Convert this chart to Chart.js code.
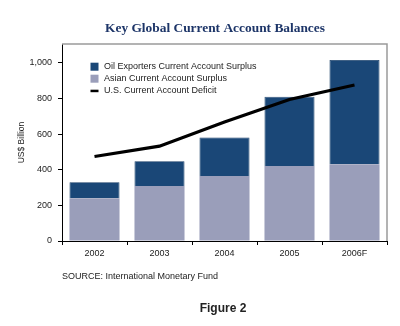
<!DOCTYPE html>
<html>
<head>
<meta charset="utf-8">
<script src="https://cdn.jsdelivr.net/npm/chart.js@4/dist/chart.umd.min.js"></script>
<style>
  html, body { margin: 0; padding: 0; background: #fff; }
  #wrap { position: relative; width: 400px; height: 326px; }
</style>
</head>
<body>
<div id="wrap"><canvas id="chartBalances" width="400" height="326"></canvas></div>
<script>
// years on the x axis, values in US$ billion
var years = ['2002', '2003', '2004', '2005', '2006F'];
var asianSurplus = [240, 309, 364, 421, 431];
var oilSurplus = [90, 139, 217, 388, 584];
var usDeficit = [474, 532, 668, 794, 875];
var yTicks = [0, 200, 400, 600, 800, 1000];

var oilColor = '#1a4777';
var asianColor = '#9a9eba';

// frame, legend and the texts around the plot
var decorations = {
    id: 'decorations',
    afterDraw: function(chart) {
        var ctx = chart.ctx;
        var a = chart.chartArea;
        ctx.save();

        // grey box on top and right of the plot
        ctx.strokeStyle = '#9a9a9a';
        ctx.lineWidth = 1.5;
        ctx.beginPath();
        ctx.moveTo(a.left, a.top);
        ctx.lineTo(a.right, a.top);
        ctx.lineTo(a.right, a.bottom);
        ctx.stroke();

        // legend
        var ds = chart.data.datasets;
        var rows = [ds[1], ds[0], ds[2]];
        ctx.font = '9px "Liberation Sans", Arial, sans-serif';
        ctx.textBaseline = 'middle';
        ctx.textAlign = 'left';
        for (var i = 0; i < rows.length; i++) {
            var y = 66.7 + i * 12;
            if (rows[i].type === 'line') {
                ctx.fillStyle = '#000';
                ctx.fillRect(90.5, y - 1, 8, 2.5);
            } else {
                ctx.fillStyle = rows[i].backgroundColor;
                ctx.fillRect(90.5, y - 4, 8, 8);
            }
            ctx.fillStyle = '#222';
            ctx.fillText(rows[i].label, 104, y);
        }

        // title
        ctx.fillStyle = '#1d3568';
        ctx.textAlign = 'center';
        ctx.font = 'bold 13.4px "Liberation Serif", "Times New Roman", serif';
        ctx.fillText('Key Global Current Account Balances', 215, 28.5);

        // source line
        ctx.fillStyle = '#222';
        ctx.textAlign = 'left';
        ctx.font = '9px "Liberation Sans", Arial, sans-serif';
        ctx.fillText('SOURCE: International Monetary Fund', 62, 277);

        // figure caption
        ctx.textAlign = 'center';
        ctx.font = 'bold 12px "Liberation Sans", Arial, sans-serif';
        ctx.fillText('Figure 2', 223, 309);

        ctx.restore();
    }
};

function drawBalances() {
    var ctx = document.getElementById('chartBalances');
    var data = {
        labels: years,
        datasets: [{
            type: 'bar',
            label: 'Asian Current Account Surplus',
            data: asianSurplus,
            backgroundColor: asianColor,
            stack: 'surplus',
            order: 1
        }, {
            type: 'bar',
            label: 'Oil Exporters Current Account Surplus',
            data: oilSurplus,
            backgroundColor: oilColor,
            borderColor: '#143a64',
            borderWidth: 0.8,
            borderSkipped: 'bottom',
            stack: 'surplus',
            order: 2
        }, {
            type: 'line',
            label: 'U.S. Current Account Deficit',
            data: usDeficit,
            borderColor: '#000',
            borderWidth: 3.2,
            pointRadius: 0,
            tension: 0,
            fill: false,
            order: 0
        }]
    };
    var options = {
        responsive: false,
        animation: false,
        layout: { padding: { top: 44, right: 13, left: 17, bottom: 0 } },
        plugins: {
            legend: { display: false },
            tooltip: { enabled: false }
        },
        datasets: {
            bar: { categoryPercentage: 1, barPercentage: 0.77 }
        },
        scales: {
            x: {
                stacked: true,
                offset: true,
                grid: { display: true, offset: true, drawOnChartArea: false, drawTicks: true, tickLength: 4, color: '#000' },
                border: { display: true, color: '#000', width: 1 },
                ticks: { color: '#222', padding: 3, font: { family: '"Liberation Sans", Arial, sans-serif', size: 9 } },
                afterFit: function(scale) { scale.height = 85; }
            },
            y: {
                stacked: true,
                min: 0,
                max: 1105,
                afterBuildTicks: function(scale) {
                    scale.ticks = yTicks.map(function(v) { return { value: v }; });
                },
                grid: { display: true, drawOnChartArea: false, drawTicks: true, tickLength: 4, color: '#000' },
                border: { display: true, color: '#000', width: 1 },
                ticks: {
                    color: '#222',
                    padding: 6,
                    font: { family: '"Liberation Sans", Arial, sans-serif', size: 9 },
                    callback: function(v) { return v.toLocaleString('en-US'); }
                },
                title: {
                    display: true,
                    text: 'US$ Billion',
                    color: '#222',
                    padding: { top: 0, bottom: 2 },
                    font: { family: '"Liberation Sans", Arial, sans-serif', size: 8.5 }
                },
                afterFit: function(scale) { scale.width = 45; }
            }
        }
    };
    new Chart(ctx, {
        type: 'bar',
        data: data,
        options: options,
        plugins: [decorations]
    });
}

drawBalances();
</script>
</body>
</html>
